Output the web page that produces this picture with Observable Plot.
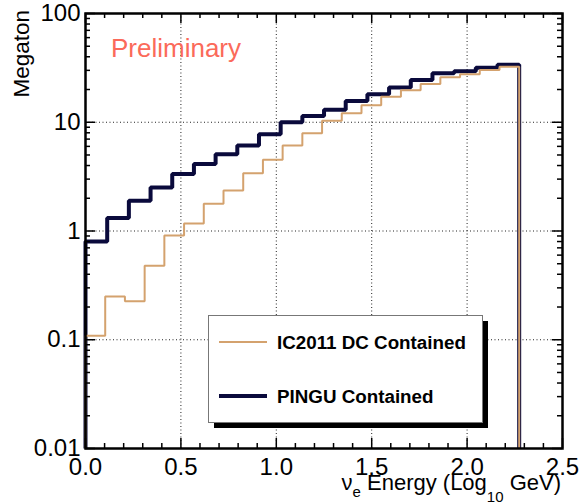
<!DOCTYPE html>
<html>
<head>
<meta charset="utf-8">
<script src="https://cdn.jsdelivr.net/npm/d3@7"></script>
<script src="https://cdn.jsdelivr.net/npm/@observablehq/plot@0.6"></script>
<style>
  html, body { margin: 0; padding: 0; background: #fff; }
  #chart { width: 581px; height: 503px; }
</style>
</head>
<body>
<div id="chart"></div>
<script>
// ---- data ----
const pinguEdges = [0, 0.1137, 0.2273, 0.341, 0.4546, 0.5683, 0.6819, 0.7956, 0.9092, 1.0229, 1.1365,
  1.2502, 1.3638, 1.4775, 1.5911, 1.7048, 1.8184, 1.9321, 2.0457, 2.1594, 2.273];
const pinguValues = [0.80, 1.32, 1.90, 2.51, 3.35, 4.14, 5.09, 6.1, 7.76, 10.0,
  11.4, 13.0, 15.7, 18.1, 20.9, 24.4, 28.2, 29.4, 31.7, 33.8];

const icEdges = [0, 0.1033, 0.2066, 0.31, 0.4133, 0.5166, 0.6199, 0.7233, 0.8266, 0.9299, 1.0332,
  1.1365, 1.2399, 1.3432, 1.4465, 1.5498, 1.6532, 1.7565, 1.8598, 1.9631, 2.0664, 2.1698, 2.273];
const icValues = [0.109, 0.25, 0.226, 0.48, 0.91, 1.17, 1.78, 2.36, 3.4, 4.51, 6.1,
  7.93, 10.3, 12.1, 14.3, 17.2, 19.7, 22.5, 25.9, 27.7, 30.2, 32.4];

const xTickLabels = [0, 0.5, 1.0, 1.5, 2.0, 2.5];
const xMinorTicks = [0.1, 0.2, 0.3, 0.4, 0.6, 0.7, 0.8, 0.9, 1.1, 1.2, 1.3, 1.4, 1.6, 1.7, 1.8, 1.9, 2.1, 2.2, 2.3, 2.4];
const yTickLabels = [0.01, 0.1, 1, 10, 100];
const yMinorMultipliers = [2, 3, 4, 5, 6, 7, 8, 9];
const xGrid = [0.5, 1.0, 1.5, 2.0];
const yGrid = [0.1, 1, 10];

const seriesNames = ["IC2011 DC Contained", "PINGU Contained"];
const yFloor = 0.01;

// ---- build step-histogram outlines ----
function outline(edges, values, series) {
  const pts = [{x: edges[0], y: yFloor, series}];
  values.forEach((v, i) => pts.push({x: edges[i], y: v, series}));
  pts.push({x: edges[edges.length - 1], y: values[values.length - 1], series});
  pts.push({x: edges[edges.length - 1], y: yFloor, series});
  return pts;
}
const pinguPts = outline(pinguEdges, pinguValues, seriesNames[1]);
const icPts = outline(icEdges, icValues, seriesNames[0]);
const yMinorTicks = [0.01, 0.1, 1, 10].flatMap(d => yMinorMultipliers.map(m => +(m * d).toPrecision(3)));

const W = 581, H = 503;
const mL = 85, mR = 19, mT = 13, mB = 55;
const fw = W - mL - mR, fh = H - mT - mB;
const navy = "#0a0a3c", tan = "#d4a26e";
const font = "'Liberation Sans', Arial, Helvetica, sans-serif";

const chart = Plot.plot({
  width: W, height: H,
  marginLeft: mL, marginRight: mR, marginTop: mT, marginBottom: mB,
  x: {domain: [0, 2.5]},
  y: {type: "log", domain: [0.01, 100]},
  style: {fontFamily: font, background: "#fff", color: "#000"},
  marks: [
    Plot.ruleX(xGrid, {stroke: "#222", strokeWidth: 1, strokeDasharray: "1,2.5"}),
    Plot.ruleY(yGrid, {stroke: "#222", strokeWidth: 1, strokeDasharray: "1,2.5"}),
    Plot.line(pinguPts, {x: "x", y: "y", curve: "step-after", stroke: navy, strokeWidth: 4, strokeLinejoin: "miter", strokeLinecap: "butt"}),
    Plot.line(icPts, {x: "x", y: "y", curve: "step-after", stroke: tan, strokeWidth: 2, strokeLinejoin: "miter", strokeLinecap: "butt"}),
    // inward ticks
    Plot.ruleX(xTickLabels, {insetTop: fh - 10, stroke: "#000", strokeWidth: 1.5}),
    Plot.ruleX(xTickLabels, {insetBottom: fh - 10, stroke: "#000", strokeWidth: 1.5}),
    Plot.ruleX(xMinorTicks, {insetTop: fh - 5, stroke: "#000", strokeWidth: 1.5}),
    Plot.ruleX(xMinorTicks, {insetBottom: fh - 5, stroke: "#000", strokeWidth: 1.5}),
    Plot.ruleY(yTickLabels, {insetRight: fw - 10, stroke: "#000", strokeWidth: 1.5}),
    Plot.ruleY(yTickLabels, {insetLeft: fw - 10, stroke: "#000", strokeWidth: 1.5}),
    Plot.ruleY(yMinorTicks, {insetRight: fw - 5, stroke: "#000", strokeWidth: 1.5}),
    Plot.ruleY(yMinorTicks, {insetLeft: fw - 5, stroke: "#000", strokeWidth: 1.5}),
    Plot.frame({stroke: "#000", strokeWidth: 2.5}),
    Plot.axisX(xTickLabels, {tickSize: 0, tickPadding: 9, fontSize: 24, label: null, tickFormat: d3.format(".1f")}),
    Plot.axisY(yTickLabels, {tickSize: 0, tickPadding: 5, fontSize: 24, label: null, tickFormat: d => String(d)})
  ]
});

document.getElementById("chart").appendChild(chart);

// ---- annotations: titles, "Preliminary", legend ----
const svg = d3.select(chart);

svg.append("text")
  .attr("x", 111).attr("y", 57)
  .attr("text-anchor", "start")
  .attr("font-family", font).attr("font-size", 26)
  .attr("fill", "#fb6a5a")
  .text("Preliminary");

const xt = svg.append("text")
  .attr("x", 561).attr("y", 490)
  .attr("text-anchor", "end")
  .attr("font-family", font).attr("font-size", 22).attr("fill", "#000");
xt.append("tspan").text("ν");
xt.append("tspan").attr("font-size", 15).attr("dy", 7).text("e");
xt.append("tspan").attr("dy", -7).text(" Energy (Log");
xt.append("tspan").attr("font-size", 15).attr("dy", 12).text("10");
xt.append("tspan").attr("dy", -12).text(" GeV)");

svg.append("text")
  .attr("transform", "translate(29,10) rotate(-90)")
  .attr("text-anchor", "end")
  .attr("font-family", font).attr("font-size", 22.5).attr("fill", "#000")
  .text("Megaton");

const lg = svg.append("g").attr("text-anchor", "start");
lg.append("rect").attr("x", 214).attr("y", 321).attr("width", 274).attr("height", 107).attr("fill", "#000");
lg.append("rect").attr("x", 208.5).attr("y", 315.5).attr("width", 274).attr("height", 107)
  .attr("fill", "#fff").attr("stroke", "#777").attr("stroke-width", 1);
const legendItems = [
  {name: seriesNames[0], color: tan, w: 2, y: 342},
  {name: seriesNames[1], color: navy, w: 4, y: 396}
];
legendItems.forEach(it => {
  lg.append("line").attr("x1", 219).attr("x2", 267).attr("y1", it.y).attr("y2", it.y)
    .attr("stroke", it.color).attr("stroke-width", it.w);
  lg.append("text").attr("x", 277).attr("y", it.y + 7)
    .attr("text-anchor", "start")
    .attr("font-family", font).attr("font-size", 18.8).attr("font-weight", "bold").attr("fill", "#000")
    .text(it.name);
});
</script>
</body>
</html>
